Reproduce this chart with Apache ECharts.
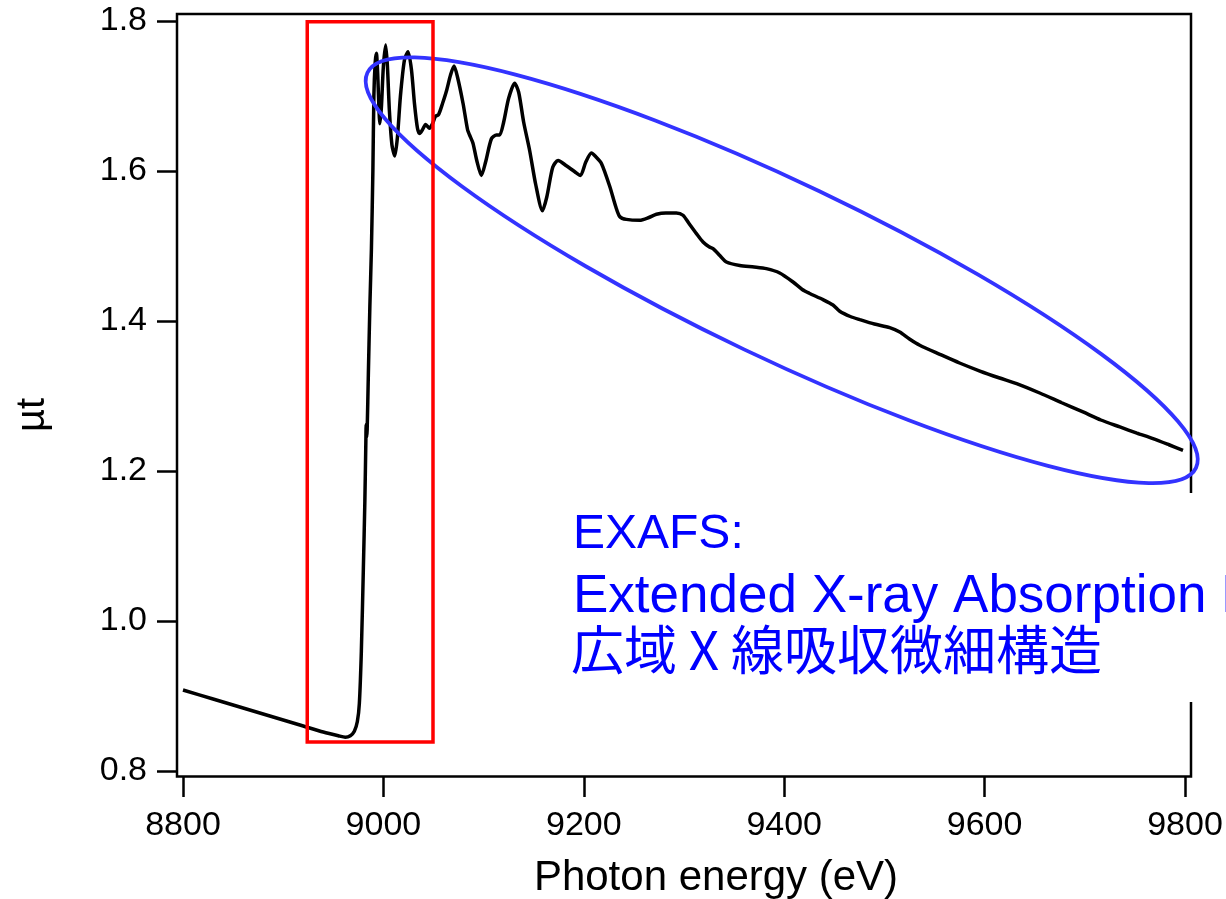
<!DOCTYPE html>
<html>
<head>
<meta charset="utf-8">
<script src="https://cdn.jsdelivr.net/npm/echarts/dist/echarts.min.js"></script>
<style>
html,body{margin:0;padding:0;background:#ffffff;}
#chart{width:1226px;height:899px;}
</style>
</head>
<body>
<div id="chart"></div>
<script>
// ---------- data ----------
const energy = [
  8800, 8830, 8860, 8890, 8920, 8940, 8955, 8962, 8967, 8971, 8974, 8976, 8978, 8980,
  8981.5, 8982.5, 8982.8, 8983.2, 8983.8, 8985, 8986.5, 8988, 8989.5, 8990.5, 8991.8,
  8993, 8994.3, 8995.5, 8996.5, 8998, 9000, 9002.3, 9004, 9006, 9008.5, 9011.3, 9014,
  9017, 9021, 9024.6, 9028, 9031, 9034, 9036.2, 9039, 9042.2, 9046, 9049, 9052, 9055,
  9059, 9063, 9067, 9070.5, 9074, 9079.5, 9084, 9086, 9089.4, 9093, 9097.8, 9102,
  9107.8, 9112.8, 9116, 9120, 9125, 9131, 9135, 9140, 9146, 9152, 9158.7, 9163, 9169,
  9174.3, 9182.6, 9191, 9196.6, 9202, 9207.6, 9212, 9217.6, 9226, 9232, 9236, 9242.5,
  9255.8, 9265, 9272.5, 9282, 9292.4, 9299, 9305, 9312.4, 9319, 9325, 9329, 9336,
  9342.3, 9355.6, 9370, 9382.2, 9395.5, 9408.8, 9418, 9425, 9438.7, 9448.7, 9455.4,
  9466, 9475.4, 9490, 9505.3, 9515.3, 9525, 9535.3, 9555.3, 9575, 9595.3, 9615, 9632,
  9655, 9677, 9698.2, 9716, 9735, 9752, 9768, 9784, 9798
];
const mu = [
  0.908, 0.896, 0.884, 0.872, 0.860, 0.852, 0.847, 0.845, 0.847, 0.853, 0.866, 0.89, 0.96, 1.07,
  1.16, 1.24, 1.262, 1.245, 1.255, 1.33, 1.42, 1.494, 1.60, 1.70, 1.745,
  1.757, 1.73, 1.685, 1.663, 1.685, 1.74, 1.768, 1.74, 1.68, 1.635, 1.620, 1.645,
  1.70, 1.748, 1.759, 1.735, 1.69, 1.657, 1.650, 1.655, 1.662, 1.657, 1.663, 1.673, 1.675,
  1.69, 1.707, 1.728, 1.740, 1.725, 1.69, 1.655, 1.648, 1.637, 1.615, 1.594, 1.612,
  1.643, 1.648, 1.648, 1.665, 1.697, 1.717, 1.705, 1.665, 1.627, 1.582, 1.547, 1.565, 1.605,
  1.614, 1.607, 1.599, 1.594, 1.612, 1.624, 1.619, 1.610, 1.579, 1.552, 1.539, 1.5355,
  1.5343, 1.538, 1.5423, 1.544, 1.544, 1.541, 1.530, 1.5165, 1.5053, 1.499, 1.4965, 1.487,
  1.4787, 1.474, 1.472, 1.4698, 1.464, 1.452, 1.442, 1.437, 1.4285, 1.4213, 1.413,
  1.406, 1.4019, 1.396, 1.3911, 1.3853, 1.376, 1.3677, 1.3556, 1.344, 1.3333, 1.324, 1.3165,
  1.304, 1.291, 1.2787, 1.268, 1.2587, 1.2505, 1.2432, 1.235, 1.2276
];
const xTickRange = [8800, 9800, 200];   // min, max, step
const yTickRange = [0.8, 1.8, 0.2];
const xTitle = 'Photon energy (eV)';
const yTitle = 'µt';
// XANES region box (data coords: energy, µt)
const xanesBox = [[8924, 1.799], [9049.5, 0.8387]];
// EXAFS ellipse centre (data coords)
const exafsCentre = [9397.5, 1.4676];
const noteLines = ['EXAFS:', 'Extended X-ray Absorption Fine Structure', '広域 X 線吸収微細構造'];

// ---------- chart ----------
const FONT = 'Arial, "Liberation Sans", Helvetica, sans-serif';
const chart = echarts.init(document.getElementById('chart'), null, {renderer: 'canvas'});
const series = energy.map((e, i) => [e, mu[i]]);

chart.setOption({
  animation: false,
  backgroundColor: '#ffffff',
  grid: {left: 183, right: 41, top: 21, bottom: 128, containLabel: false, outerBoundsMode: 'none'},
  xAxis: {
    type: 'value', min: xTickRange[0], max: xTickRange[1], interval: xTickRange[2],
    offset: 6,
    axisLine: {show: false},
    axisTick: {show: true, length: 20, lineStyle: {color: '#000', width: 2.5}},
    axisLabel: {margin: 32, color: '#000', fontSize: 34, fontFamily: FONT,
      formatter: v => String(Math.round(v))},
    splitLine: {show: false},
    name: xTitle, nameLocation: 'middle', nameGap: 80,
    nameTextStyle: {color: '#000', fontSize: 42, fontFamily: FONT, padding: [0, 0, 0, 64]}
  },
  yAxis: {
    type: 'value', min: yTickRange[0], max: yTickRange[1], interval: yTickRange[2],
    offset: 6,
    axisLine: {show: false},
    axisTick: {show: true, length: 20, lineStyle: {color: '#000', width: 2.5}},
    axisLabel: {margin: 30, color: '#000', fontSize: 34, fontFamily: FONT,
      formatter: v => v.toFixed(1)},
    splitLine: {show: false},
    name: yTitle, nameLocation: 'middle', nameGap: 124, nameRotate: 90,
    nameTextStyle: {color: '#000', fontSize: 40, fontFamily: FONT, padding: [0, 38, 0, 0]}
  },
  series: [{
    type: 'line', data: series, showSymbol: false, symbol: 'none',
    smooth: 0.25,
    lineStyle: {color: '#000', width: 3.5}, z: 3
  }]
});

// ---------- annotations positioned through the chart's own scales ----------
const toPx = p => chart.convertToPixel({gridIndex: 0}, p);
const pTL = toPx([xTickRange[0], yTickRange[1]]);
const pBR = toPx([xTickRange[1], yTickRange[0]]);
const b1 = toPx(xanesBox[0]);
const b2 = toPx(xanesBox[1]);
const ec = toPx(exafsCentre);

chart.setOption({
  graphic: [
    { // plot frame
      type: 'rect', z: 50, silent: true,
      shape: {x: pTL[0] - 6, y: pTL[1] - 7, width: (pBR[0] - pTL[0]) + 12, height: (pBR[1] - pTL[1]) + 12.5},
      style: {fill: 'none', stroke: '#000', lineWidth: 2.5}
    },
    { // EXAFS ellipse
      type: 'ellipse', z: 60, silent: true,
      x: ec[0], y: ec[1], rotation: -25.5 * Math.PI / 180,
      shape: {cx: 0, cy: 0, rx: 459, ry: 87.6},
      style: {fill: 'none', stroke: '#3333ff', lineWidth: 3.8}
    },
    { // XANES box
      type: 'rect', z: 61, silent: true,
      shape: {x: b1[0], y: b1[1], width: b2[0] - b1[0], height: b2[1] - b1[1]},
      style: {fill: 'none', stroke: '#ff0000', lineWidth: 3.5}
    },
    { // white background behind note
      type: 'rect', z: 70, silent: true,
      shape: {x: 565, y: 493, width: 661, height: 209},
      style: {fill: '#ffffff'}
    },
    {
      type: 'text', z: 71, silent: true, x: 573, y: 535,
      style: {text: noteLines[0], fill: '#0000ff', font: '48px ' + FONT, verticalAlign: 'middle', align: 'left'}
    },
    {
      type: 'text', z: 71, silent: true, x: 573, y: 597,
      style: {text: noteLines[1], fill: '#0000ff', font: '53px ' + FONT, verticalAlign: 'middle', align: 'left'}
    },
    {
      type: 'text', z: 71, silent: true, x: 571, y: 650,
      style: {text: noteLines[2], fill: '#0000ff', font: '53px "Noto Sans CJK JP", sans-serif', verticalAlign: 'middle', align: 'left'}
    }
  ]
});
</script>
</body>
</html>
